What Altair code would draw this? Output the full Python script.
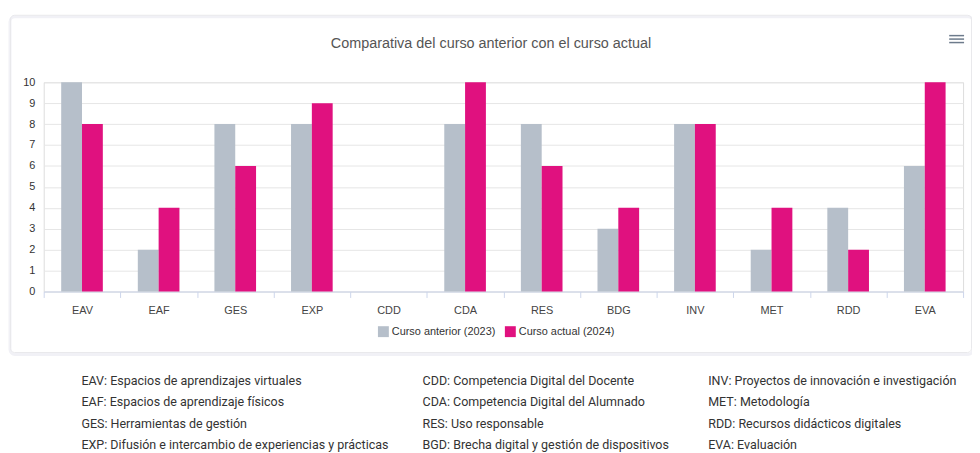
import altair as alt
import pandas as pd

# ---- data ----
categories = ["EAV", "EAF", "GES", "EXP", "CDD", "CDA", "RES", "BDG", "INV", "MET", "RDD", "EVA"]
series_names = ["Curso anterior (2023)", "Curso actual (2024)"]
prev_values = [10, 2, 8, 8, 0, 8, 8, 3, 8, 2, 4, 6]
curr_values = [8, 4, 6, 9, 0, 10, 6, 4, 8, 4, 2, 10]
y_ticks = list(range(0, 11))

glossary_col1 = [
    "EAV: Espacios de aprendizajes virtuales",
    "EAF: Espacios de aprendizaje físicos",
    "GES: Herramientas de gestión",
    "EXP: Difusión e intercambio de experiencias y prácticas",
]
glossary_col2 = [
    "CDD: Competencia Digital del Docente",
    "CDA: Competencia Digital del Alumnado",
    "RES: Uso responsable",
    "BGD: Brecha digital y gestión de dispositivos",
]
glossary_col3 = [
    "INV: Proyectos de innovación e investigación",
    "MET: Metodología",
    "RDD: Recursos didácticos digitales",
    "EVA: Evaluación",
]

title_text = ["Comparativa del curso anterior con el curso actual"]

# ---- tables ----
rows = []
for c, a, b in zip(categories, prev_values, curr_values):
    rows.append({"cat": c, "series": series_names[0], "value": a})
    rows.append({"cat": c, "series": series_names[1], "value": b})
bars_df = pd.DataFrame(rows)

W, H = 927, 211
FONT = "Helvetica, Arial, Liberation Sans, sans-serif"
GRAY = "#b6bfca"
PINK = "#e0117f"

one = pd.DataFrame({"k": [0]})

shadow = alt.Chart(one).mark_rect(
    fillOpacity=0, stroke="#f1f1f6", strokeWidth=3, cornerRadius=5
).encode(x=alt.value(-34), x2=alt.value(W + 10), y=alt.value(-66), y2=alt.value(H + 63.5))
card = alt.Chart(one).mark_rect(
    fillOpacity=0, stroke="#e9e9ec", strokeWidth=1, cornerRadius=4
).encode(x=alt.value(-33.5), x2=alt.value(W + 8.5), y=alt.value(-67.5), y2=alt.value(H + 61.5))

title_layer = alt.Chart(pd.DataFrame({"t": title_text})).mark_text(
    font=FONT, fontSize=14.5, color="#555555", align="center", baseline="middle"
).encode(x=alt.value(451), y=alt.value(-39), text="t:N")

bars = alt.Chart(bars_df).mark_bar().encode(
    x=alt.X(
        "cat:N",
        sort=categories,
        scale=alt.Scale(paddingInner=0, paddingOuter=0),
        axis=alt.Axis(
            title=None,
            labelAngle=0,
            labelFont=FONT,
            labelFontSize=11,
            labelColor="#444444",
            domainColor="#ccd6eb",
            tickColor="#ccd6eb",
            tickSize=6,
            tickBand="extent",
            labelPadding=7,
            grid=False,
        ),
    ),
    xOffset=alt.XOffset("series:N", sort=series_names, scale=alt.Scale(paddingInner=0, paddingOuter=0.84)),
    y=alt.Y(
        "value:Q",
        scale=alt.Scale(domain=[0, 10], nice=False),
        axis=alt.Axis(
            title=None,
            values=y_ticks,
            labelFont=FONT,
            labelFontSize=11,
            labelColor="#333333",
            domain=False,
            ticks=False,
            labelPadding=9,
            gridColor="#e6e6e6",
            gridWidth=1,
        ),
    ),
    color=alt.Color(
        "series:N",
        sort=series_names,
        scale=alt.Scale(domain=series_names, range=[GRAY, PINK]),
        legend=alt.Legend(
            title=None,
            orient="none",
            direction="horizontal",
            legendX=337,
            legendY=246,
            symbolType="square",
            symbolSize=121,
            symbolStrokeWidth=0,
            labelFont=FONT,
            labelFontSize=11,
            labelColor="#333333",
            labelOffset=3,
            columnPadding=9,
        ),
    ),
)

menu_layers = []
for yy in [-47, -43.5, -40]:
    menu_layers.append(
        alt.Chart(one).mark_rule(color="#6d7b8c", strokeWidth=1.5).encode(
            x=alt.value(913), x2=alt.value(928), y=alt.value(yy)
        )
    )

def glossary_layer(items, xpos):
    df = pd.DataFrame({"label": items, "row": list(range(len(items)))})
    return alt.Chart(df).mark_text(
        align="left", baseline="middle", font="Roboto", fontSize=12.6, color="#333333"
    ).encode(
        x=alt.value(xpos),
        y=alt.Y("row:Q", axis=None, scale=alt.Scale(domain=[0, 3], range=[301, 366])),
        text="label:N",
    )

text_layers = [
    glossary_layer(glossary_col1, 38),
    glossary_layer(glossary_col2, 382),
    glossary_layer(glossary_col3, 670),
]

chart = (
    alt.layer(shadow, card, title_layer, bars, *menu_layers, *text_layers)
    .resolve_scale(y="independent")
    .properties(
        width=W,
        height=H,
        autosize=alt.AutoSizeParams(type="none"),
        padding={"left": 36, "top": 73, "right": 9, "bottom": 161},
    )
    .configure_view(stroke=None)
    .configure(background="#ffffff")
)

chart.save("out.html", embed_options={"renderer": "svg", "actions": False})
